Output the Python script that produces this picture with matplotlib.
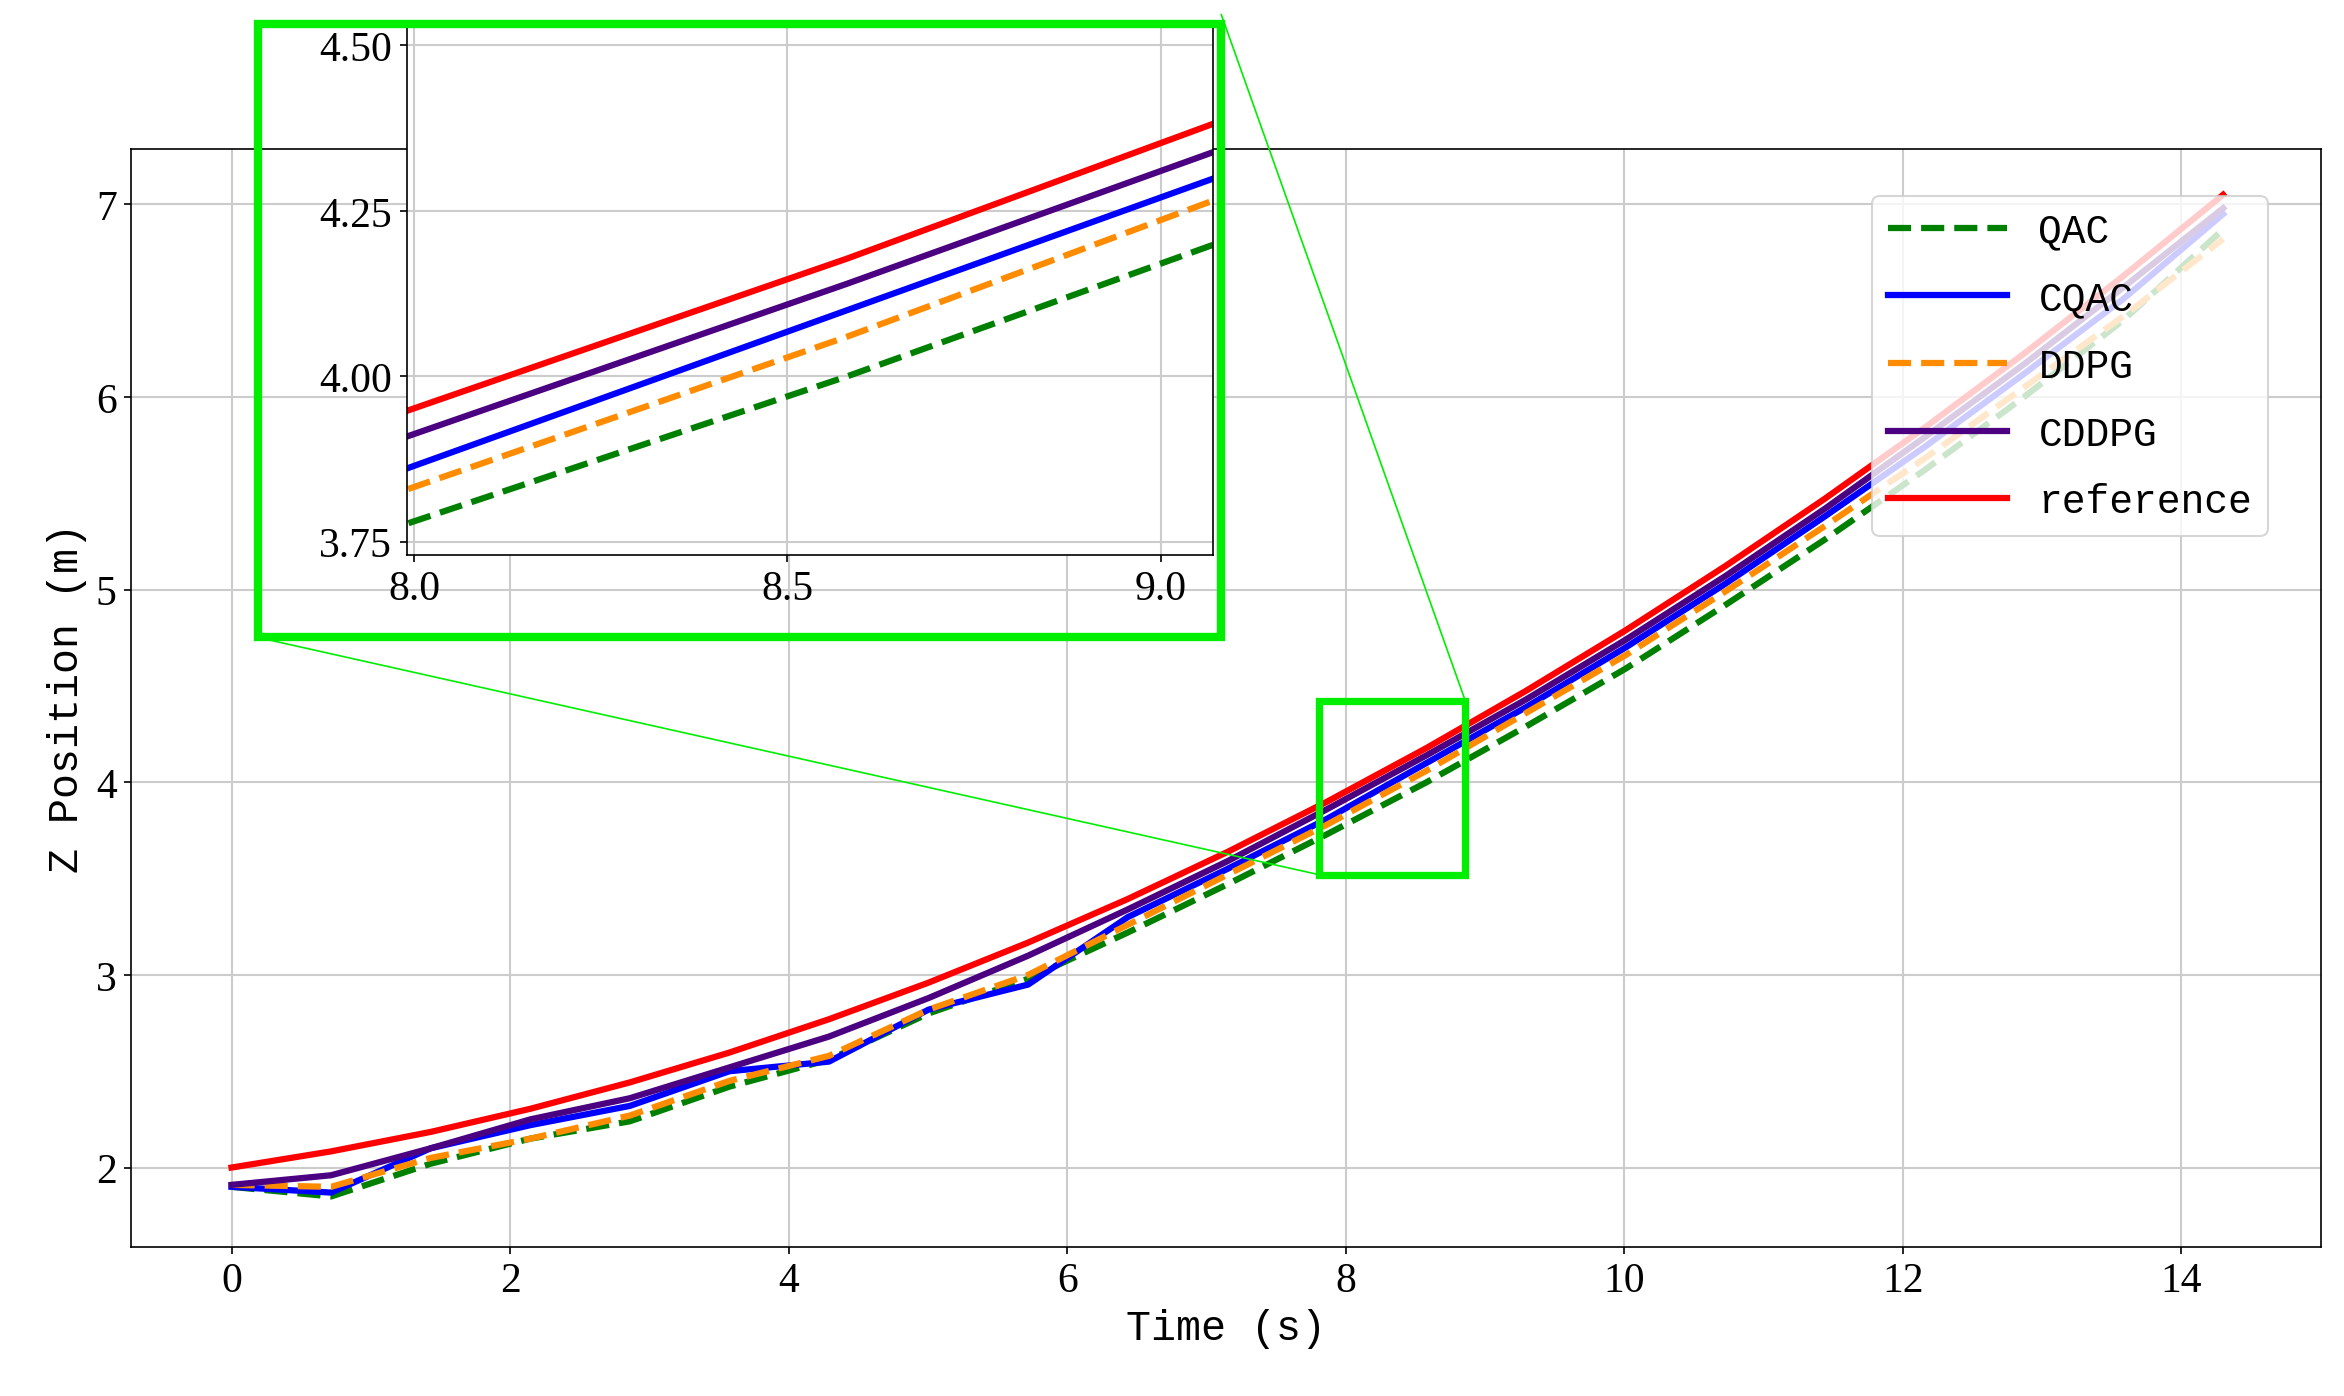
import matplotlib
matplotlib.use("Agg")
import matplotlib.pyplot as plt
from matplotlib.patches import Rectangle, ConnectionPatch

time = [0, 0.715, 1.43, 2.145, 2.86, 3.575, 4.29, 5.005, 5.72, 6.435, 7.15,
        7.865, 8.58, 9.295, 10.01, 10.725, 11.44, 12.155, 12.87, 13.585, 14.3]
qac = [1.90, 1.85, 2.02, 2.15, 2.24, 2.42, 2.56, 2.80, 2.98, 3.22, 3.47,
       3.73, 4.00, 4.29, 4.59, 4.92, 5.26, 5.62, 6.00, 6.40, 6.87]
cqac = [1.90, 1.87, 2.10, 2.22, 2.32, 2.50, 2.55, 2.82, 2.95, 3.30, 3.55,
        3.81, 4.10, 4.39, 4.70, 5.03, 5.38, 5.74, 6.12, 6.51, 6.95]
ddpg = [1.91, 1.90, 2.05, 2.15, 2.27, 2.45, 2.58, 2.82, 3.00, 3.26, 3.52,
        3.78, 4.06, 4.36, 4.66, 4.99, 5.33, 5.68, 6.05, 6.42, 6.82]
cddpg = [1.91, 1.96, 2.10, 2.25, 2.36, 2.52, 2.68, 2.88, 3.10, 3.34, 3.59,
         3.86, 4.14, 4.43, 4.74, 5.07, 5.42, 5.79, 6.17, 6.57, 6.98]
reference = [2.00, 2.084, 2.185, 2.305, 2.442, 2.597, 2.770, 2.960, 3.168, 3.394, 3.638,
             3.899, 4.178, 4.475, 4.789, 5.122, 5.472, 5.840, 6.225, 6.629, 7.05]

series = [("QAC", qac, "green", "--"), ("CQAC", cqac, "blue", "-"),
          ("DDPG", ddpg, "darkorange", "--"), ("CDDPG", cddpg, "indigo", "-"),
          ("reference", reference, "red", "-")]

mono = ["Liberation Mono", "DejaVu Sans Mono"]
serif = ["Liberation Serif", "DejaVu Serif"]

fig = plt.figure(figsize=(15.627, 9.313), dpi=150)
ax = fig.add_axes([0.056, 0.107, 0.934, 0.786])
for name, y, c, ls in series:
    ax.plot(time, y, color=c, linestyle=ls, linewidth=3, label=name)
ax.set_xlim(-0.72, 15.0)
ax.set_ylim(1.59, 7.29)
ax.set_xticks(range(0, 15, 2))
ax.grid(True, color="#cccccc", linewidth=1)
for lab in ax.get_xticklabels() + ax.get_yticklabels():
    lab.set_family(serif)
    lab.set_fontsize(20)
ax.set_xlabel("Time (s)", fontsize=20, family=mono)
ax.set_ylabel("Z Position (m)", fontsize=20, family=mono)
leg = ax.legend(loc="upper right", prop={"family": mono, "size": 19},
                handlelength=3, labelspacing=0.75, framealpha=0.8,
                bbox_to_anchor=(0.985, 0.975))

# zoom region on the main axes
x0, x1, y0, y1 = 7.81, 8.86, 3.52, 4.42
ax.add_patch(Rectangle((x0, y0), x1 - x0, y1 - y0, fill=False,
                       edgecolor="#00ee00", linewidth=3.5, zorder=5))

# inset
ins = fig.add_axes([0.1735, 0.602, 0.344, 0.379])
for name, y, c, ls in series:
    ins.plot(time, y, color=c, linestyle=ls, linewidth=3)
ins.set_xlim(7.99, 9.07)
ins.set_ylim(3.73, 4.53)
ins.set_xticks([8.0, 8.5, 9.0])
ins.set_xticklabels(["8.0", "8.5", "9.0"])
ins.set_yticks([3.75, 4.0, 4.25, 4.5])
ins.set_yticklabels(["3.75", "4.00", "4.25", "4.50"])
ins.grid(True, color="#cccccc", linewidth=1)
for lab in ins.get_xticklabels() + ins.get_yticklabels():
    lab.set_family(serif)
    lab.set_fontsize(20)

# green frame around the inset
fig.add_artist(Rectangle((0.110, 0.543), 0.411, 0.439, transform=fig.transFigure,
                         fill=False, edgecolor="#00ee00", linewidth=4))

for (xa, ya), (xf, yf) in [((x1, y1), (0.521, 0.989)), ((x0, y0), (0.110, 0.543))]:
    fig.add_artist(ConnectionPatch(xyA=(xa, ya), coordsA=ax.transData,
                                   xyB=(xf, yf), coordsB=fig.transFigure,
                                   color="#00ee00", linewidth=0.8))

fig.savefig("out.png", dpi=150)
